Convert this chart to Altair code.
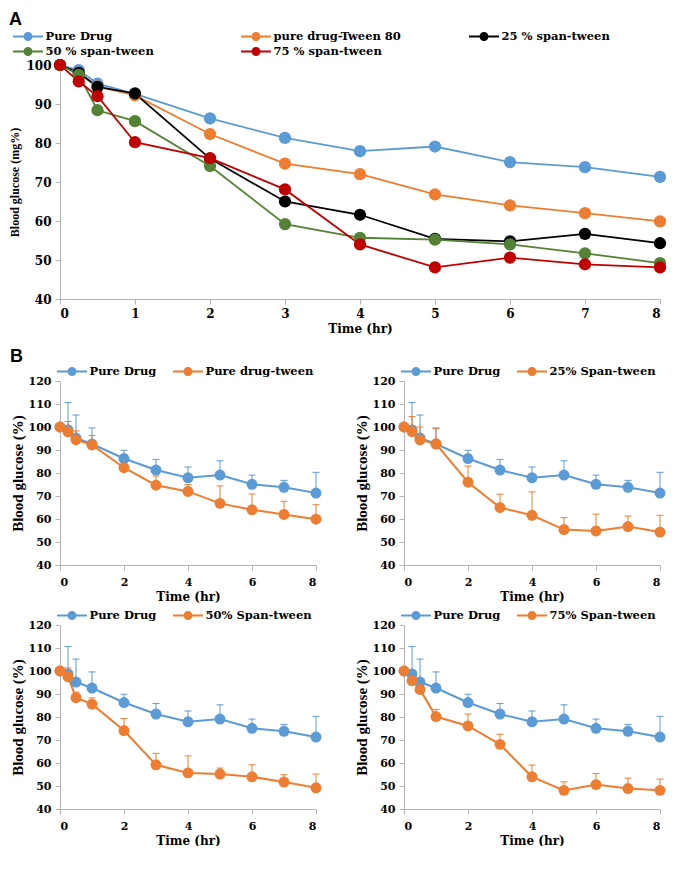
import altair as alt
import pandas as pd

# ---------------- data ----------------
times = [0, 0.25, 0.5, 1, 2, 3, 4, 5, 6, 7, 8]

series_a = ["Pure Drug", "pure drug-Tween 80", "25 % span-tween", "50 % span-tween", "75 % span-tween"]
colors_a = ["#5B9BD5", "#ED7D31", "#000000", "#548235", "#C00000"]

pure_drug = [100, 98.7, 95.2, 92.6, 86.3, 81.3, 77.9, 79.1, 75.1, 73.8, 71.3]
pure_tween = [100, 97.9, 94.5, 92.2, 82.3, 74.7, 72.0, 66.8, 64.0, 62.0, 59.9]
span25 = [100, 98.0, 94.4, 92.7, 76.0, 65.0, 61.6, 55.4, 54.8, 56.7, 54.3]
span50 = [100, 97.5, 88.4, 85.6, 74.1, 59.2, 55.7, 55.2, 54.0, 51.7, 49.2]
span75 = [100, 95.8, 92.0, 80.2, 76.1, 68.1, 54.0, 48.1, 50.6, 48.9, 48.1]

err_pure = [0, 12, 10, 7, 3.6, 4.6, 4.7, 6.2, 4, 3, 9]
err_tween = [0, 4.5, 3.8, 4.1, 1, 4, 3, 7.6, 6.9, 5.7, 6.3]
err_25 = [0, 6.5, 5.6, 6.5, 7, 5.8, 10.2, 5.2, 7.3, 4.6, 7.3]
err_50 = [0, 3.8, 2.4, 2.7, 5.2, 5, 7.4, 2.6, 5.2, 3.2, 6]
err_75 = [0, 1, 1, 3.1, 5.2, 4.4, 5.1, 3.7, 4.8, 4.5, 4.9]

b_names = ["Pure drug-tween", "25% Span-tween", "50% Span-tween", "75% Span-tween"]
b_means = [pure_tween, span25, span50, span75]
b_errs = [err_tween, err_25, err_50, err_75]

x_ticks_a = [0, 1, 2, 3, 4, 5, 6, 7, 8]
y_ticks_a = [40, 50, 60, 70, 80, 90, 100]
x_ticks_b = [0, 2, 4, 6, 8]
y_ticks_b = [40, 50, 60, 70, 80, 90, 100, 110, 120]

BLUE = "#5B9BD5"
ORANGE = "#ED7D31"
AX = "#B4B4B4"
LABEL_FONT = "DejaVu Serif"
YTITLE_FONT = "Liberation Serif"
PAD = {"top": 3, "left": 0, "right": 0, "bottom": 0}

# legend symbol: line with a dot in the middle (filled path)
SYM = ("M-2,-0.13L-0.5,-0.13L-0.5,0.13L-2,0.13Z "
       "M0.5,-0.13L2,-0.13L2,0.13L0.5,0.13Z "
       "M0.6,0A0.6,0.6,0,1,1,-0.6,0A0.6,0.6,0,1,1,0.6,0Z")

# ---------------- panel A ----------------
rows = []
for name, vals in zip(series_a, [pure_drug, pure_tween, span25, span50, span75]):
    for t, v in zip(times, vals):
        rows.append({"time": t, "value": v, "series": name})
df_a = pd.DataFrame(rows)

axis_xa = alt.Axis(values=x_ticks_a, title="Time (hr)", labelFontSize=12,
                   titleFont=LABEL_FONT, titleFontSize=12, titleFontWeight="bold",
                   labelPadding=4, titlePadding=4, labelOverlap=False)
axis_ya = alt.Axis(values=y_ticks_a, title="Blood glucose (mg%)", labelFontSize=12,
                   titleFont=YTITLE_FONT, titleFontSize=12, titleFontWeight="bold",
                   labelPadding=4, titlePadding=4, labelOverlap=False)
xa = alt.X("time:Q", scale=alt.Scale(domain=[0, 8], nice=False), axis=axis_xa)
ya = alt.Y("value:Q", scale=alt.Scale(domain=[40, 100], nice=False, zero=False), axis=axis_ya)

line_a = alt.Chart(df_a).mark_line(strokeWidth=1.8).encode(
    x=xa, y=ya,
    stroke=alt.Stroke("series:N", sort=series_a, scale=alt.Scale(range=colors_a), legend=None))
pts_a = alt.Chart(df_a).mark_circle(size=150, opacity=1).encode(
    x=xa, y=ya,
    color=alt.Color("series:N", scale=alt.Scale(domain=series_a, range=colors_a),
                    legend=alt.Legend(orient="none", legendX=-47, legendY=-36, columns=3,
                                      direction="horizontal", gridAlign="all",
                                      columnPadding=68, rowPadding=2, title=None,
                                      symbolType=SYM, symbolSize=225, symbolStrokeWidth=0,
                                      symbolOffset=7.5, labelOffset=10, labelLimit=400,
                                      labelFont=LABEL_FONT, labelFontWeight="bold",
                                      labelFontSize=11.5, labelColor="black", padding=0)))
panel_a = alt.layer(line_a, pts_a).properties(
    width=600, height=234,
    title=alt.TitleParams("A", anchor="start", frame="bounds", offset=0))


# ---------------- panel B ----------------
def panel_b(name2, mean2, err2):
    df = pd.DataFrame({
        "time": times + times,
        "value": pure_drug + mean2,
        "err": err_pure + err2,
        "series": ["Pure Drug"] * len(times) + [name2] * len(times),
    })
    df["upper"] = df["value"] + df["err"]
    dom = ["Pure Drug", name2]
    rng = [BLUE, ORANGE]
    axis_xb = alt.Axis(values=x_ticks_b, title="Time (hr)", labelFontSize=11,
                       titleFont=LABEL_FONT, titleFontSize=12, titleFontWeight="bold",
                       labelPadding=6, titlePadding=4, labelOverlap=False)
    axis_yb = alt.Axis(values=y_ticks_b, title="Blood glucose (%)", labelFontSize=11,
                       titleFont=YTITLE_FONT, titleFontSize=15, titleFontWeight="bold",
                       labelPadding=4, titlePadding=3, labelOverlap=False)
    sx = alt.Scale(domain=[0, 8], nice=False)
    sy = alt.Scale(domain=[40, 120], nice=False, zero=False)
    xb = alt.X("time:Q", scale=sx, axis=axis_xb)
    yb = alt.Y("value:Q", scale=sy, axis=axis_yb)
    yu = alt.Y("upper:Q", scale=sy, axis=axis_yb)
    s_nol = alt.Stroke("series:N", sort=dom, scale=alt.Scale(range=rng), legend=None)
    f_nol = alt.Fill("series:N", sort=dom, scale=alt.Scale(range=rng), legend=None)
    base = alt.Chart(df)
    eb = base.transform_filter("datum.err > 0").mark_rule(strokeWidth=1).encode(
        x=xb, y=yb, y2="upper:Q", stroke=s_nol)
    cap = base.transform_filter("datum.err > 0").mark_tick(
        orient="horizontal", size=7, thickness=1, opacity=1).encode(
        x=xb, y=yu, fill=f_nol)
    ln = base.mark_line(strokeWidth=2).encode(x=xb, y=yb, stroke=s_nol)
    pt = base.mark_circle(size=120, opacity=1).encode(
        x=xb, y=yb,
        color=alt.Color("series:N", scale=alt.Scale(domain=dom, range=rng),
                        legend=alt.Legend(orient="none", legendX=-3, legendY=-17,
                                          direction="horizontal", columnPadding=16, title=None,
                                          symbolType=SYM, symbolSize=225, symbolStrokeWidth=0,
                                          symbolOffset=7.5, labelOffset=10, labelLimit=400,
                                          labelFont=LABEL_FONT, labelFontWeight="bold",
                                          labelFontSize=11.5, labelColor="black", padding=0)))
    return alt.layer(eb, cap, ln, pt).properties(width=256, height=184)


panels = [panel_b(n, m, e) for n, m, e in zip(b_names, b_means, b_errs)]
grid_b = alt.ConcatChart(concat=panels, columns=2, spacing={"row": 6, "column": 32}).resolve_scale(
    color="independent", stroke="independent", fill="independent",
    x="independent", y="independent").resolve_legend(
    color="independent").properties(
    title=alt.TitleParams("B", anchor="start", frame="bounds", offset=-2))

chart = alt.vconcat(panel_a, grid_b, spacing=14).resolve_scale(
    color="independent", stroke="independent", fill="independent",
    x="independent", y="independent").resolve_legend(
    color="independent").properties(padding=PAD).configure(padding=PAD).configure_view(
    stroke=None).configure_axis(
    grid=False, domainColor=AX, tickColor=AX, tickSize=5, domainWidth=1,
    labelFont=LABEL_FONT, labelFontWeight="bold", labelColor="black",
    titleColor="black").configure_title(
    font="Liberation Sans", fontSize=18, fontWeight="bold", color="black")

chart.save("out.html", embed_options={"renderer": "svg", "actions": False})
